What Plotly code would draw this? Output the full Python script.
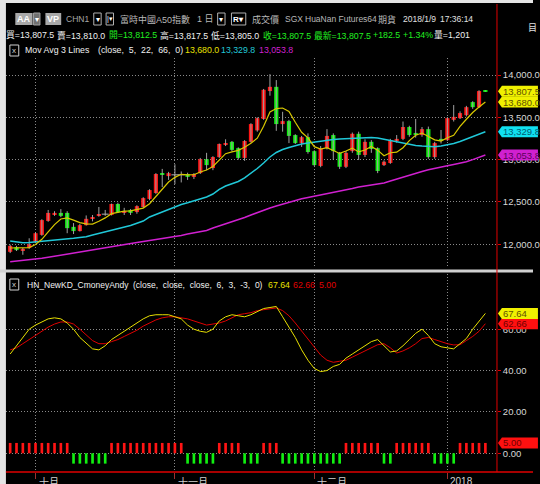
import plotly.graph_objects as go
import pandas as pd

W, H = 540, 484

# ---------------- data ----------------
open_ = [11910, 11965, 11920, 11955, 12025, 12110, 12275, 12350, 12370, 12370,
         12205, 12155, 12225, 12300, 12335, 12355, 12345, 12475, 12380, 12405,
         12380, 12440, 12535, 12605, 12840, 12805, 12820, 12820, 12830, 12795,
         12840, 13005, 12900, 13030, 13175, 13210, 13135, 13020, 13210, 13345,
         13480, 13810, 13860, 13420, 13455, 13290, 13195, 13265, 13100, 12925,
         13135, 13290, 13080, 12915, 13100, 13305, 13055, 13210, 13135, 12935,
         12960, 13230, 13245, 13385, 13315, 13290, 13360, 13030, 13245, 13230,
         13470, 13490, 13525, 13680, 13620, 13812.5]
high = [11995, 11980, 11955, 12070, 12140, 12295, 12405, 12390, 12415, 12390,
        12250, 12240, 12340, 12345, 12440, 12405, 12480, 12490, 12430, 12415,
        12460, 12555, 12650, 12840, 12890, 12855, 12945, 12860, 12845, 12840,
        13020, 13080, 13040, 13190, 13240, 13220, 13145, 13230, 13430, 13500,
        13835, 14010, 13940, 13565, 13470, 13300, 13280, 13310, 13110, 13160,
        13360, 13310, 13090, 13100, 13320, 13330, 13240, 13230, 13145, 12990,
        13245, 13290, 13450, 13400, 13480, 13385, 13390, 13210, 13350, 13500,
        13645, 13570, 13635, 13690, 13820, 13817.5]
low = [11895, 11920, 11875, 11945, 12015, 12100, 12265, 12335, 12320, 12130,
       12120, 12150, 12220, 12270, 12325, 12335, 12340, 12370, 12345, 12345,
       12360, 12430, 12520, 12595, 12675, 12760, 12710, 12730, 12760, 12770,
       12830, 12875, 12875, 13020, 13160, 13100, 13000, 12985, 13200, 13330,
       13470, 13755, 13340, 13330, 13195, 13185, 13150, 13070, 12925, 12910,
       13120, 12995, 12890, 12900, 13080, 12995, 13030, 13080, 12840, 12925,
       12950, 13200, 13230, 13270, 13260, 13270, 13010, 13010, 13190, 13220,
       13450, 13480, 13510, 13600, 13610, 13805]
close = [11980, 11930, 11945, 12000, 12130, 12285, 12370, 12370, 12335, 12190,
         12155, 12225, 12300, 12320, 12355, 12355, 12475, 12380, 12390, 12370,
         12450, 12545, 12640, 12830, 12820, 12840, 12820, 12820, 12795, 12830,
         13005, 12935, 13030, 13185, 13195, 13115, 13020, 13220, 13420, 13490,
         13825, 13860, 13420, 13455, 13280, 13195, 13265, 13090, 12935, 13135,
         13280, 13100, 12915, 13080, 13305, 13055, 13210, 13125, 12865, 12975,
         13230, 13245, 13385, 13290, 13290, 13360, 13030, 13195, 13220, 13490,
         13505, 13550, 13620, 13620, 13810, 13807.5]
ma5_head = [11955, 11955, 11955, 11960]
ma22 = [12038, 12026, 12018, 12020, 12026, 12032, 12040, 12050, 12056, 12064,
        12071, 12080, 12089, 12109, 12127, 12141, 12162, 12180, 12197, 12221,
        12247, 12274, 12322, 12351, 12381, 12416, 12443, 12469, 12489, 12511,
        12534, 12558, 12593, 12647, 12688, 12712, 12741, 12783, 12836, 12895,
        12960, 13031, 13084, 13119, 13143, 13167, 13184, 13196, 13208, 13220,
        13228, 13238, 13244, 13249, 13253, 13255, 13259, 13261, 13255, 13240,
        13226, 13208, 13190, 13175, 13167, 13161, 13155, 13153, 13161, 13173,
        13190, 13214, 13241, 13267, 13297, 13329.8]
ma66 = [11792, 11799, 11807, 11816, 11823, 11833, 11845, 11858, 11872, 11884,
        11896, 11908, 11920, 11932, 11943, 11955, 11967, 11981, 11997, 12008,
        12019, 12031, 12043, 12053, 12064, 12076, 12085, 12102, 12121, 12132,
        12144, 12162, 12192, 12215, 12239, 12262, 12286, 12316, 12345, 12375,
        12404, 12428, 12452, 12475, 12499, 12523, 12537, 12552, 12566, 12582,
        12596, 12609, 12623, 12641, 12658, 12676, 12690, 12700, 12712, 12724,
        12747, 12771, 12794, 12818, 12838, 12859, 12879, 12897, 12913, 12927,
        12942, 12957, 12975, 13000, 13024, 13053.8]
k_line = [48, 52, 56, 60, 62, 63.5, 65, 65.5, 65, 63,
          60, 56, 53, 50.5, 50, 52, 55, 57, 59, 61,
          63, 65, 66.5, 67, 67, 67, 66, 65, 62, 60,
          59, 58.5, 60, 64, 66, 67, 66.5, 66, 67, 68.5,
          70, 70.5, 71, 66, 61, 56, 50, 45, 41, 39.5,
          40, 42, 43, 46, 48, 50, 52, 54, 55, 52,
          49, 49.5, 52, 55, 58, 60, 57, 53, 51.5, 51,
          50.5, 53, 55.5, 60, 64, 67.64]
d_line = [50, 51, 53, 55, 57, 59, 61, 62.5, 63.5, 63.5,
          62.5, 60, 57, 54.5, 53, 53, 54, 55, 56.5, 58,
          59.5, 61.5, 63, 64.5, 65.5, 66, 66, 65.5, 65, 64,
          63, 62, 62.5, 63, 64, 65.5, 67, 67.5, 68, 69,
          69.5, 70, 70.3, 69, 66.5, 63, 59, 55, 51, 47.5,
          45, 44, 44.5, 45, 46.5, 48, 49.5, 51, 52.5, 53,
          51, 48.5, 49.5, 51, 53, 55.5, 56, 55, 54, 53,
          52.4, 52.5, 54.5, 56.5, 59, 62.66]
signal = [5, 5, 5, 5, 5, 5, 5, 5, 5, 5,
          -5, -5, -5, -5, -5, -5,
          5, 5, 5, 5, 5, 5, 5, 5, 5, 5, 5, 5,
          -5, -5, -5, -5, -5,
          5, 5, 5, 5,
          -5, -5, -5,
          5, 5, 5,
          -5, -5, -5, -5, -5, -5, -5, -5, -5, -5,
          5, 5, 5, 5, 5, 5,
          -5, -5,
          5, 5, 5, 5, 5, 5,
          -5, -5, -5, -5,
          5, 5, 5, 5, 5]

month_idx = [4, 26, 48, 69]
month_txt = ['十月', '十一月', '十二月', '2018']
price_ticks = [12000, 12500, 13000, 13500, 14000]
kd_ticks = [0, 20, 40, 60]

# ---------------- colours / fonts ----------------
RED = '#ff1414'
GRN = '#10f010'
YEL = '#e8e000'
MA5C = '#d8c800'
CYA = '#20c8d8'
MAG = '#d020d0'
AXR = '#e00000'
GRID = '#8a8a8a'
GDASH = '1px,2px'
FN = 'Liberation Sans, Arial, Noto Sans CJK TC, sans-serif'
FS = 9


def P(x):
    return x / W


def Q(y):
    return 1 - y / H


n = len(close)
idx = list(range(n))
ma5 = pd.Series(close).rolling(5).mean().tolist()
ma5[:4] = ma5_head

X0, X1 = 6, 503.5
xr = [-0.67, 76.83]
main_top, main_bot = 58, 268
kd_top, kd_bot = 274, 472
y_main = [11718.7, 14200.9]
y_kd = [-9.05, 86.7]

fig = go.Figure()

# wicks
wx, wy = [], []
for i in idx:
    wx += [i, i, None]
    wy += [low[i], high[i], None]
fig.add_trace(go.Scatter(x=wx, y=wy, mode='lines', line=dict(color='#a0a0a0', width=1),
                         hoverinfo='skip', xaxis='x', yaxis='y'))
# bodies
base = [min(o, c) for o, c in zip(open_, close)]
hgt = [abs(c - o) for o, c in zip(open_, close)]
bcol = [RED if c > o else (GRN if c < o else '#a0a0a0') for o, c in zip(open_, close)]
fig.add_trace(go.Bar(x=idx, y=hgt, base=base, width=0.66, marker=dict(color=bcol, line=dict(width=0)),
                     xaxis='x', yaxis='y'))
dj = [i for i in idx if open_[i] == close[i]]
fig.add_trace(go.Scatter(x=dj, y=[close[i] for i in dj], mode='markers',
                         marker=dict(symbol='line-ew', size=5, line=dict(color='#b0b0b0', width=1)),
                         xaxis='x', yaxis='y'))
# moving averages
fig.add_trace(go.Scatter(x=idx, y=ma66, mode='lines', line=dict(color=MAG, width=1.5), xaxis='x', yaxis='y'))
fig.add_trace(go.Scatter(x=idx, y=ma22, mode='lines', line=dict(color=CYA, width=1.5), xaxis='x', yaxis='y'))
fig.add_trace(go.Scatter(x=idx, y=ma5, mode='lines', line=dict(color=MA5C, width=1.2), xaxis='x', yaxis='y'))

# KD panel
fig.add_trace(go.Bar(x=idx, y=signal, width=0.42,
                     marker=dict(color=[RED if s > 0 else GRN for s in signal], line=dict(width=0)),
                     xaxis='x2', yaxis='y2'))
fig.add_trace(go.Scatter(x=idx, y=d_line, mode='lines', line=dict(color='#e00000', width=1), xaxis='x2', yaxis='y2'))
fig.add_trace(go.Scatter(x=idx, y=k_line, mode='lines', line=dict(color=YEL, width=1), xaxis='x2', yaxis='y2'))

ax_common = dict(range=xr, domain=[P(X0), P(X1)], showticklabels=False, zeroline=False, showline=False,
                 tickmode='array', tickvals=month_idx, showgrid=True, gridcolor=GRID, griddash=GDASH, gridwidth=1)
tickfont = dict(family=FN, size=9.5, color='#d8d8d8')
fig.update_layout(
    width=W, height=H, margin=dict(l=0, r=0, t=0, b=0),
    paper_bgcolor='black', plot_bgcolor='black', showlegend=False, barmode='overlay',
    xaxis=dict(anchor='y', ticks='', **ax_common),
    xaxis2=dict(anchor='y2', ticks='outside', ticklen=6, tickcolor='#a03030', tickwidth=1, **ax_common),
    yaxis=dict(domain=[Q(main_bot), Q(main_top)], range=y_main, side='right', anchor='x',
               tickmode='array', tickvals=price_ticks, ticktext=[f'{v:,.1f}' for v in price_ticks],
               ticks='outside', ticklen=3, tickcolor=AXR, showgrid=True, gridcolor=GRID, griddash=GDASH,
               zeroline=False, showline=False, tickfont=tickfont),
    yaxis2=dict(domain=[Q(kd_bot), Q(kd_top)], range=y_kd, side='right', anchor='x2',
                tickmode='array', tickvals=kd_ticks, ticktext=[f'{v:.2f}' for v in kd_ticks],
                ticks='outside', ticklen=3, tickcolor=AXR, showgrid=True, gridcolor=GRID, griddash=GDASH,
                zeroline=False, showline=False, tickfont=tickfont),
)

shapes = []
anns = []


def rect(x0, y0, x1, y1, fill, line=None):
    shapes.append(dict(type='rect', xref='paper', yref='paper', x0=P(x0), x1=P(x1), y0=Q(y1), y1=Q(y0),
                       fillcolor=fill, line=dict(color=line or fill, width=1 if line else 0), layer='above'))


def text(x, y, s, color='#c8c8c8', size=FS, anchor='left', bold=False):
    if bold:
        s = '<b>' + s + '</b>'
    anns.append(dict(x=P(x), y=Q(y), xref='paper', yref='paper', text=s, showarrow=False,
                     xanchor=anchor, yanchor='middle', borderpad=0,
                     font=dict(family=FN, size=size, color=color)))


# frame pieces
rect(0, 0, 540, 3, '#e4e4e4')
rect(0, 0, 6, 484, '#e4e4e4')
rect(0, 269.5, 540, 272.5, '#d0d0d0')
shapes.append(dict(type='line', xref='paper', yref='paper', x0=P(503.5), x1=P(503.5), y0=Q(472), y1=Q(4),
                   line=dict(color=AXR, width=1), layer='above'))
shapes.append(dict(type='line', xref='paper', yref='paper', x0=P(6), x1=1, y0=Q(472), y1=Q(472),
                   line=dict(color=AXR, width=1.5), layer='above'))

# month labels
for m, t in zip(month_idx, month_txt):
    anns.append(dict(x=m, y=Q(474), xref='x2', yref='paper', text=t, showarrow=False, xanchor='left',
                     yanchor='top', xshift=1, font=dict(family=FN, size=10, color='#d0d0d0')))

# header line 1
rect(15.5, 13, 33, 25, '#a8a8a8')
text(24.2, 19, 'AA', '#ffffff', 9, 'center', True)
rect(34, 13, 40.5, 25, '#707070', '#a0a0a0')
text(37.3, 19, '▾', '#ffffff', 8, 'center')
rect(46, 13, 62, 25, '#a8a8a8')
text(54, 19, 'VP', '#ffffff', 9, 'center', True)
text(66, 19, 'CHN1', '#a8a8a8', 8.5)
rect(95, 13, 102.5, 25, '#000000', '#b0b0b0')
text(98.8, 19, '▾', '#ffffff', 8, 'center')
rect(107.5, 13, 115, 25, '#000000', '#b0b0b0')
text(111.3, 19, '|▾', '#ffffff', 7, 'center')
text(121, 19, '富時中國A50指數', '#b8b8b8', 9)
text(199, 19, '1 日', '#b8b8b8', 9)
rect(220.5, 13, 228, 25, '#000000', '#b0b0b0')
text(224.3, 19, '▾', '#ffffff', 8, 'center')
rect(234.5, 13, 249, 25, '#000000', '#b0b0b0')
text(241.8, 19, 'R▾', '#ffffff', 8, 'center', True)
text(254, 19, '成交價', '#b8b8b8', 9)
text(288, 19, 'SGX', '#b8b8b8', 8.5)
text(308, 19, 'HuaNan Futures64', '#b8b8b8', 8.5)
text(382, 19, '期貨', '#b8b8b8', 9)
text(407, 19, '2018/1/9', '#e0e0e0', 8.5)
text(445, 19, '17:36:14', '#e0e0e0', 8.5)
text(534, 28, '目', '#e0e0e0', 9)

# header line 2
WH = '#f0f0f0'
LG = '#20f020'
line2 = [(5, '買=13,807.5', WH), (57, '賣=13,810.0', WH), (109, '開=13,812.5', LG), (161, '高=13,817.5', WH),
         (213, '低=13,805.0', WH), (265, '收=13,807.5', LG), (317, '最新=13,807.5', LG), (377, '+182.5', LG),
         (407, '+1.34%', LG), (439, '量=1,201', WH)]
for x, s, c in line2:
    text(x, 35, s, c, 8.8)

# header line 3
rect(10, 45, 19, 56, '#000000', '#d0d0d0')
text(14.5, 50.5, 'x', '#d0d0d0', 8, 'center')
text(24, 50.5, 'Mov Avg 3 Lines', WH, 8.8)
text(98, 50.5, '(close,  5,  22,  66,  0)', WH, 8.8)
text(186, 50.5, '13,680.0', YEL, 8.8)
text(223, 50.5, '13,329.8', CYA, 8.8)
text(261, 50.5, '13,053.8', MAG, 8.8)

# KD header
rect(10, 279, 19, 290, '#000000', '#d0d0d0')
text(14.5, 284.5, 'x', '#d0d0d0', 8, 'center')
text(26, 284.5, 'HN_NewKD_CmoneyAndy', WH, 8.5)
text(134, 284.5, '(close,  close,  close,  6,  3,  -3,  0)', WH, 8.5)
text(271, 284.5, '67.64', YEL, 8.8)
text(296, 284.5, '62.66', '#e00000', 8.8)
text(322, 284.5, '5.00', '#e00000', 8.8)


# value tags on the right axis
def tag(val, yref, per_px, fill, tcol, label):
    h = 5.5 * per_px
    xa, xb, xc = P(504.5), P(508.5), P(545)
    path = f'M {xa},{val} L {xb},{val + h} L {xc},{val + h} L {xc},{val - h} L {xb},{val - h} Z'
    shapes.append(dict(type='path', xref='paper', yref=yref, path=path, fillcolor=fill,
                       line=dict(width=0), layer='above'))
    anns.append(dict(x=P(509), y=val, xref='paper', yref=yref, text=label, showarrow=False,
                     xanchor='left', yanchor='middle', borderpad=0,
                     font=dict(family=FN, size=9.5, color=tcol)))


ppx_main = (y_main[1] - y_main[0]) / (main_bot - main_top)
ppx_kd = (y_kd[1] - y_kd[0]) / (kd_bot - kd_top)
tag(ma66[-1], 'y', ppx_main, MAG, '#5a005a', f'{ma66[-1]:,.1f}')
tag(ma22[-1], 'y', ppx_main, '#10e0f0', '#005a70', f'{ma22[-1]:,.1f}')
tag(ma5[-1] - 1.5, 'y', ppx_main, '#f0f000', '#605000', '13,680.0')
tag(close[-1], 'y', ppx_main, '#f0f000', '#605000', f'{close[-1]:,.1f}')
tag(5, 'y2', ppx_kd, '#ff1010', '#700000', '5.00')
tag(d_line[-1], 'y2', ppx_kd, '#ff1010', '#700000', f'{d_line[-1]:.2f}')
tag(k_line[-1], 'y2', ppx_kd, '#f0f000', '#605000', f'{k_line[-1]:.2f}')

fig.update_layout(shapes=shapes, annotations=anns)
fig.write_html('out.html', config={'displayModeBar': False},
               post_script="document.body.style.margin='0px';")
